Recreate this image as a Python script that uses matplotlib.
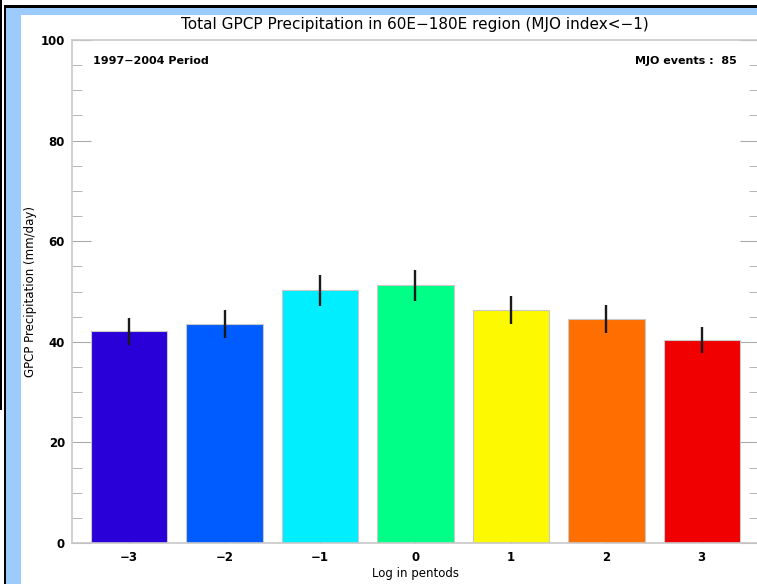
import matplotlib.pyplot as plt
from matplotlib.patches import Rectangle
from matplotlib.ticker import MultipleLocator

# pentad lags and mean GPCP precipitation (mm/day) with spread
lags = [-3, -2, -1, 0, 1, 2, 3]
precip = [42.1, 43.5, 50.2, 51.2, 46.4, 44.5, 40.3]
spread = [2.65, 2.75, 3.0, 3.0, 2.8, 2.8, 2.6]
colors = ['#2a00d8', '#005cff', '#00eeff', '#00ff86', '#fcf900', '#ff6e00', '#f00000']
n_events = 85

W, H = 757, 584
fig = plt.figure(figsize=(W / 100, H / 100), dpi=100)

# frame around the panel
def px_rect(x0, y0, x1, y1, color):
    fig.add_artist(Rectangle((x0 / W, 1 - y1 / H), (x1 - x0) / W, (y1 - y0) / H,
                             transform=fig.transFigure, facecolor=color,
                             edgecolor='none', zorder=-10))

px_rect(0, 0, W, H, 'white')
px_rect(6, 8, W, 15, '#9ccbff')
px_rect(6, 8, 21, H, '#9ccbff')
px_rect(4, 5, W, 8, 'black')
px_rect(4, 5, 6, H, 'black')
px_rect(0, 0, 1.5, 410, 'black')

ax = fig.add_axes([72 / W, (H - 543) / H, (759 - 72) / W, (543 - 40) / H])
ax.bar(lags, precip, width=0.8, color=colors, edgecolor='#c8c8c8', linewidth=0.8, zorder=2)
ax.errorbar(lags, precip, yerr=spread, fmt='none', ecolor='#1a1a1a', elinewidth=1.7,
            capsize=0, zorder=3)

ax.set_xlim(-3.6, 3.6)
ax.set_ylim(0, 100)
ax.set_xticks(lags)
ax.set_xticklabels([str(l).replace('-', '\u2212') for l in lags])
ax.yaxis.set_major_locator(MultipleLocator(20))
ax.yaxis.set_minor_locator(MultipleLocator(5))

for s in ax.spines.values():
    s.set_color('#c8c8c8')
    s.set_linewidth(1.2)
ax.tick_params(axis='both', which='both', direction='in', color='#aaaaaa',
               labelsize=8.5, right=True)
ax.tick_params(axis='y', which='major', length=14, pad=5)
ax.tick_params(axis='y', which='minor', length=7)
ax.tick_params(axis='x', which='major', length=8, pad=6, color='#666666')
for lbl in ax.get_xticklabels() + ax.get_yticklabels():
    lbl.set_fontweight('bold')

ax.set_xlabel('Log in pentods', fontsize=8.5, labelpad=2)
ax.set_ylabel('GPCP Precipitation (mm/day)', fontsize=8.5, labelpad=3)

fig.text(415 / W, 1 - 24 / H, 'Total GPCP Precipitation in 60E\u2212180E region (MJO index<\u22121)',
         ha='center', va='center', fontsize=11)
fig.text(93 / W, 1 - 61 / H, '1997\u22122004 Period', ha='left', va='center',
         fontsize=8, fontweight='bold')
fig.text(737 / W, 1 - 61 / H, 'MJO events :  %d' % n_events, ha='right', va='center',
         fontsize=8, fontweight='bold')

fig.savefig('out.png', dpi=100)
